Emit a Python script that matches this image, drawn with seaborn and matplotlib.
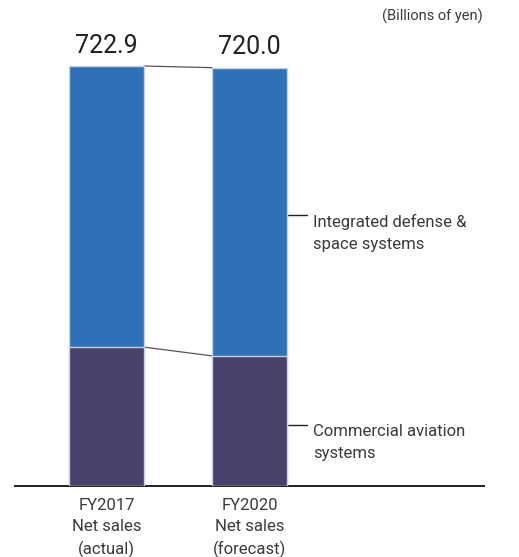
import matplotlib
matplotlib.use("Agg")
import matplotlib.pyplot as plt
import matplotlib.transforms as mtransforms
import seaborn as sns
import pandas as pd

# Net sales by segment, billions of yen
periods = ["FY2017\nNet sales\n(actual)", "FY2020\nNet sales\n(forecast)"]
totals = [722.9, 720.0]
commercial_aviation = [239.0, 224.0]
segment_names = ["Integrated defense &\nspace systems", "Commercial aviation\nsystems"]
unit_note = "(Billions of yen)"

sns.set_theme(style="white")
plt.rcParams["font.family"] = ["Roboto", "DejaVu Sans"]

BLUE = "#3070b7"
PURPLE = "#48416b"
EDGE = "#c6d3e6"
TEXT = "#3a3a3a"
DARK = "#231f20"

df = pd.DataFrame({"period": periods, "total": totals, "commercial": commercial_aviation})

fig = plt.figure(figsize=(5.19, 5.57), dpi=100)
W, H = 519, 557
ax_left, ax_right, ax_bottom, ax_top = 15, 484, 486, 26
ax = fig.add_axes([ax_left / W, (H - ax_bottom) / H, (ax_right - ax_left) / W, (ax_bottom - ax_top) / H])

bar_w = 75 / 143
sns.barplot(data=df, x="period", y="total", color=BLUE, width=bar_w, saturation=1,
            edgecolor=EDGE, linewidth=1.0, ax=ax, zorder=2)
sns.barplot(data=df, x="period", y="commercial", color=PURPLE, width=bar_w, saturation=1,
            edgecolor=EDGE, linewidth=1.0, ax=ax, zorder=3)

px_per_unit = 420 / 722.9
ax.set_ylim(0, (ax_bottom - ax_top) / px_per_unit)
ax.set_xlim(-(106.5 - ax_left) / 143, 1 + (ax_right - 249.5) / 143)

patches = ax.patches
top_bars = patches[:2]
low_bars = patches[2:4]

# connector lines between bar tops and segment boundaries
for pair in (top_bars, low_bars):
    a, b = pair
    x0 = a.get_x() + a.get_width()
    x1 = b.get_x()
    ax.plot([x0, x1], [a.get_height(), b.get_height()], color="#555555", lw=0.9, zorder=1)

# total value labels
for bar, val in zip(top_bars, totals):
    ax.annotate(f"{val:.1f}", xy=(bar.get_x() + bar.get_width() / 2, val),
                xytext=(0, 6), textcoords="offset points", ha="center", va="bottom",
                fontsize=18, color=DARK)

# segment labels with leader lines on the right of the second bar
b2_top, b2_low = top_bars[1], low_bars[1]
right_edge = b2_top.get_x() + b2_top.get_width()
line_end = 1 + (307 - 249.5) / 143
text_x = 1 + (313 - 249.5) / 143
mids = [(b2_low.get_height() + b2_top.get_height()) / 2 - 6, b2_low.get_height() / 2 - 7]
shift = mtransforms.ScaledTranslation(0, 1 / 100, fig.dpi_scale_trans)
for name, y in zip(segment_names, mids):
    ax.plot([right_edge, line_end], [y, y], color=DARK, lw=1.0, zorder=1)
    ax.text(text_x, y, name, ha="left", va="top", fontsize=12, color=TEXT,
            linespacing=1.55, transform=ax.transData + shift)

fig.text(483 / W, 1 - 16 / H, unit_note, ha="right", va="center", fontsize=10.5, color=TEXT)

ax.set_xlabel("")
ax.set_ylabel("")
ax.set_yticks([])
ax.tick_params(axis="x", length=0, pad=8.5, labelsize=12, labelcolor=TEXT)
for lbl in ax.get_xticklabels():
    lbl.set_linespacing(1.5)
for side in ("top", "right", "left"):
    ax.spines[side].set_visible(False)
ax.spines["bottom"].set_color(DARK)
ax.spines["bottom"].set_linewidth(1.4)
ax.patch.set_alpha(0)

fig.savefig("out.png", dpi=100)
